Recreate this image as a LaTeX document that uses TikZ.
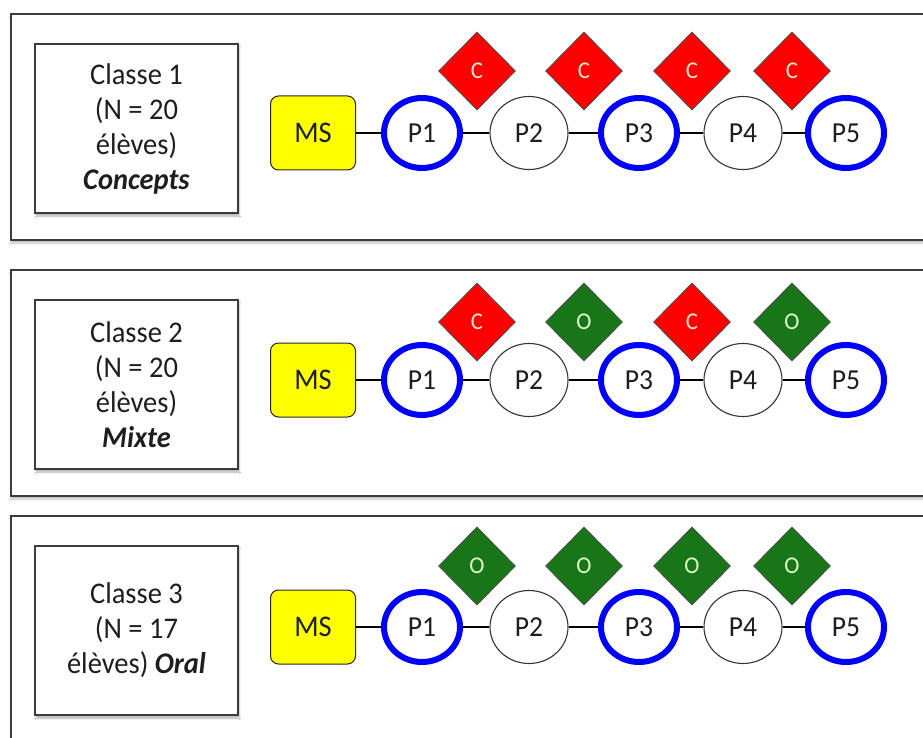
\documentclass[tikz,border=0pt]{standalone}
\usepackage{fontspec}
\setmainfont{Carlito}[FakeStretch=0.95]
\usetikzlibrary{shapes.geometric,shadows.blur}
\definecolor{cred}{RGB}{255,0,0}
\definecolor{cgreen}{RGB}{24,118,24}
\definecolor{cblue}{RGB}{0,0,255}
\definecolor{cyellow}{RGB}{255,255,0}
\definecolor{cframe}{RGB}{60,60,60}
\definecolor{ctext}{RGB}{30,30,30}
\definecolor{ccl}{RGB}{255,232,210}
\definecolor{col}{RGB}{222,250,205}
\tikzset{
  panel/.style={draw=cframe, line width=1.4pt, fill=white,
    blur shadow={shadow xshift=0pt, shadow yshift=-3pt, shadow blur steps=6, shadow opacity=25}},
  classbox/.style={draw=cframe, line width=1.4pt, fill=white, align=center,
    minimum width=203pt, minimum height=169pt, inner sep=0pt, text=ctext,
    font=\fontsize{30}{35}\selectfont,
    blur shadow={shadow xshift=1pt, shadow yshift=-3pt, shadow blur steps=5, shadow opacity=30}},
  ms/.style={draw=black!85, line width=1pt, fill=cyellow, rounded corners=8pt,
    minimum width=85pt, minimum height=74pt, inner sep=0pt, text=ctext,
    font=\fontsize{30}{34}\selectfont},
  pblue/.style={ellipse, draw=cblue, line width=6pt, fill=white,
    minimum width=76pt, minimum height=70pt, inner sep=0pt, text=ctext,
    font=\fontsize{29}{33}\selectfont},
  pwhite/.style={ellipse, draw=black!80, line width=1.1pt, fill=white,
    minimum width=78pt, minimum height=73pt, inner sep=0pt, text=ctext,
    font=\fontsize{29}{33}\selectfont},
  dc/.style={diamond, draw=black!70, line width=0.8pt, fill=cred,
    minimum width=77pt, minimum height=78pt, inner sep=0pt, text=ccl,
    font=\fontsize{24}{26}\selectfont, node contents={C}},
  do/.style={diamond, draw=black!70, line width=0.8pt, fill=cgreen,
    minimum width=77pt, minimum height=78pt, inner sep=0pt, text=col,
    font=\fontsize{24}{26}\selectfont, node contents={O}},
  link/.style={line width=2pt, black}
}
% #1 key, #2 panel top, #3 circle y, #4 diamond y, #5 class text, #6-#9 diamond styles
\newcommand\drawpanel[9]{%
  \draw[panel] (11,#2) rectangle (935,#2+226);
  \node[classbox] (#1box) at (136.5,#2+114.5) {#5};
  \node[name=#1d1, at={(477,#4)}, #6];
  \node[name=#1d2, at={(584,#4)}, #7];
  \node[name=#1d3, at={(692,#4)}, #8];
  \node[name=#1d4, at={(792,#4)}, #9];
  \node[ms] (#1ms) at (313,#3) {MS};
  \node[pblue] (#1p1) at (422,#3) {P1};
  \node[pwhite] (#1p2) at (529,#3) {P2};
  \node[pblue] (#1p3) at (639,#3) {P3};
  \node[pwhite] (#1p4) at (743,#3) {P4};
  \node[pblue] (#1p5) at (846,#3) {P5};
  \draw[link] (#1ms) -- (#1p1);
  \draw[link] (#1p1) -- (#1p2);
  \draw[link] (#1p2) -- (#1p3);
  \draw[link] (#1p3) -- (#1p4);
  \draw[link] (#1p4) -- (#1p5);
}
\begin{document}
\begin{tikzpicture}[x=1pt, y=-1pt]
  \fill[white] (0,0) rectangle (923,738);
  \useasboundingbox (0,0) rectangle (923,738);
  \drawpanel{a}{14}{133}{71}{Classe 1\\(N = 20\\élèves)\\\textbf{\textit{Concepts}}}{dc}{dc}{dc}{dc}
  \drawpanel{b}{270}{380}{322}{Classe 2\\(N = 20\\élèves)\\\textbf{\textit{Mixte}}}{dc}{do}{dc}{do}
  \drawpanel{c}{516}{627}{566}{Classe 3\\(N = 17\\élèves) \textbf{\textit{Oral}}}{do}{do}{do}{do}
\end{tikzpicture}
\end{document}
